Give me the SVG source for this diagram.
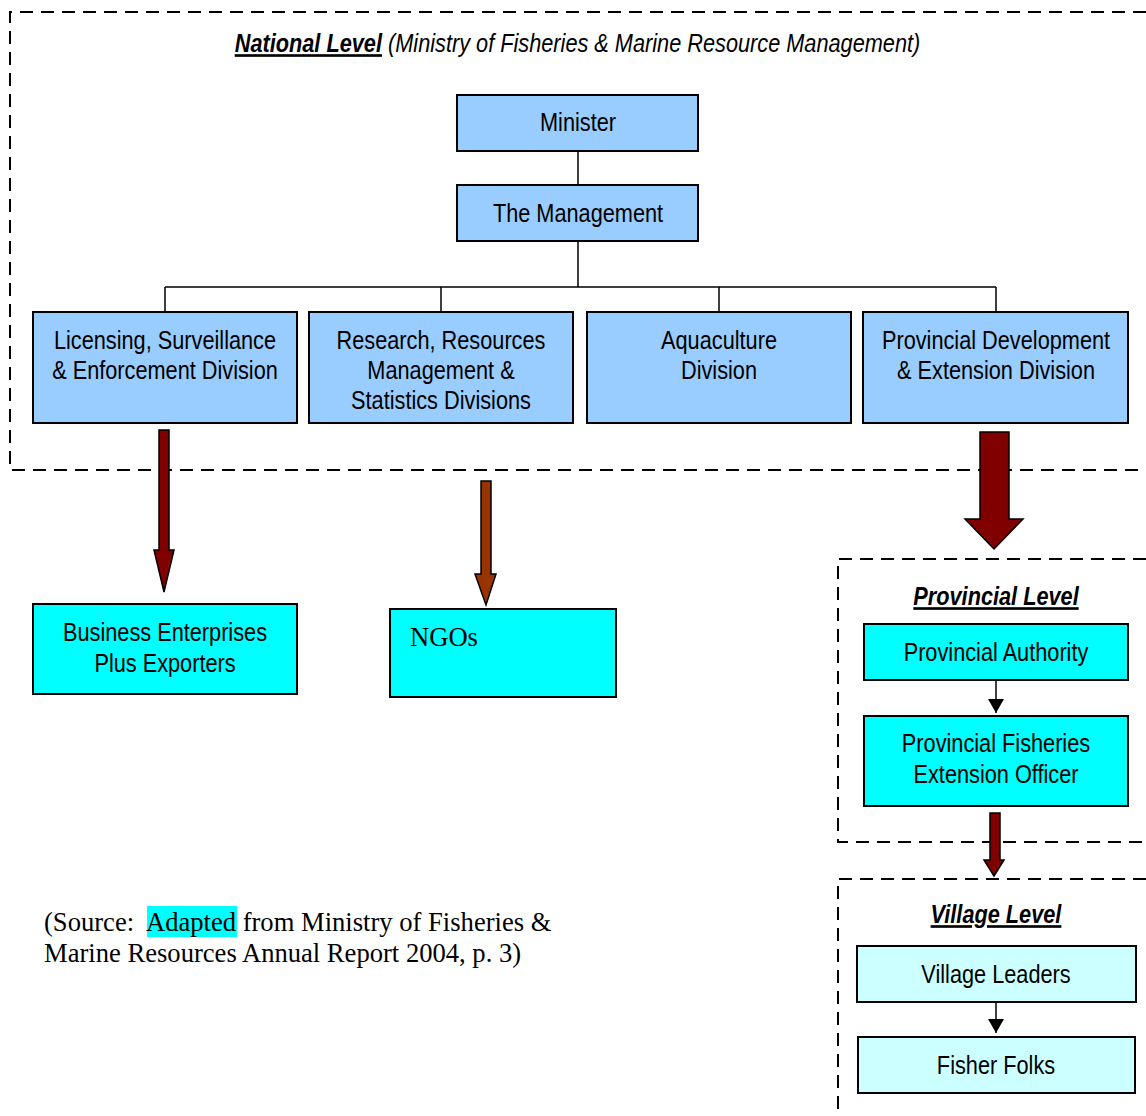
<svg xmlns="http://www.w3.org/2000/svg" width="1146" height="1116" viewBox="0 0 1146 1116">
<style>
.dash{fill:none;stroke:#000;stroke-width:2;stroke-dasharray:13 8}
.blue{fill:#99CCFF;stroke:#000;stroke-width:2}
.cyan{fill:#00FFFF;stroke:#000;stroke-width:2}
.pale{fill:#CCFFFF;stroke:#000;stroke-width:2}
.t{font-family:"Liberation Sans",Arial,sans-serif;font-size:26.5px;fill:#000;text-anchor:middle}
.h{font-family:"Liberation Sans",Arial,sans-serif;font-size:26.5px;font-style:italic;fill:#000;text-anchor:middle}
.s{font-family:"Liberation Serif","Times New Roman",serif;font-size:26.6px;fill:#000}
.ln{fill:none;stroke:#000;stroke-width:1.5}
.fat{stroke:#000;stroke-width:1.5}
</style>
<defs>
<marker id="ah" markerWidth="14" markerHeight="16" refX="14" refY="8" orient="auto" markerUnits="userSpaceOnUse"><path d="M0,0 L14,8 L0,16 z" fill="#000"/></marker>
</defs>
<g id="frames">
<path class="dash" d="M1146,12 H10 V470 H1146"/>
<path class="dash" d="M1146,559 H838 V842 H1146"/>
<path class="dash" d="M1146,879 H838 V1116"/>
</g>
<g id="titles">
<text class="h" transform="translate(577.5 0) scale(0.82 1)" x="0" y="52"><tspan font-weight="bold" text-decoration="underline">National Level</tspan> (Ministry of Fisheries &amp; Marine Resource Management)</text>
<text class="h" transform="translate(996 0) scale(0.82 1)" x="0" y="605" font-weight="bold" text-decoration="underline">Provincial Level</text>
<text class="h" transform="translate(996 0) scale(0.82 1)" x="0" y="923" font-weight="bold" text-decoration="underline">Village Level</text>
</g>
<g id="connectors">
<path class="ln" d="M578,151 V185 M578,241 V287 M165,287 H996 M165,287 V312 M441,287 V312 M719,287 V312 M996,287 V312"/>
<path class="ln" d="M996,680 V713" marker-end="url(#ah)"/>
<path class="ln" d="M996,1002 V1033" marker-end="url(#ah)"/>
<path class="fat" fill="#800000" d="M159,430 H169 V550 H174 L164,592 L154,550 H159 Z"/>
<path class="fat" fill="#993300" d="M481,481 H491 V574 H496 L486,605 L475,574 H481 Z"/>
<path class="fat" fill="#800000" d="M980,432 H1009 V519 H1023 L994,549 L965,519 H980 Z"/>
<path class="fat" fill="#800000" d="M990,813 H1000 V860 H1004 L994,876 L984,860 H990 Z"/>
</g>
<g id="minister"><rect class="blue" x="457" y="95" width="241" height="56"/><text class="t" transform="translate(578 0) scale(0.82 1)" x="0" y="131">Minister</text></g>
<g id="management"><rect class="blue" x="457" y="185" width="241" height="56"/><text class="t" transform="translate(578 0) scale(0.82 1)" x="0" y="222">The Management</text></g>
<g id="licensing"><rect class="blue" x="33" y="312" width="264" height="111"/><text class="t" transform="translate(165 0) scale(0.82 1)" x="0" y="349">Licensing, Surveillance</text><text class="t" transform="translate(165 0) scale(0.82 1)" x="0" y="379">&amp; Enforcement Division</text></g>
<g id="research"><rect class="blue" x="309" y="312" width="264" height="111"/><text class="t" transform="translate(441 0) scale(0.82 1)" x="0" y="349">Research, Resources</text><text class="t" transform="translate(441 0) scale(0.82 1)" x="0" y="379">Management &amp;</text><text class="t" transform="translate(441 0) scale(0.82 1)" x="0" y="409">Statistics Divisions</text></g>
<g id="aquaculture"><rect class="blue" x="587" y="312" width="264" height="111"/><text class="t" transform="translate(719 0) scale(0.82 1)" x="0" y="349">Aquaculture</text><text class="t" transform="translate(719 0) scale(0.82 1)" x="0" y="379">Division</text></g>
<g id="provdev"><rect class="blue" x="863" y="312" width="265" height="111"/><text class="t" transform="translate(996 0) scale(0.82 1)" x="0" y="349">Provincial Development</text><text class="t" transform="translate(996 0) scale(0.82 1)" x="0" y="379">&amp; Extension Division</text></g>
<g id="business"><rect class="cyan" x="33" y="604" width="264" height="90"/><text class="t" transform="translate(165 0) scale(0.82 1)" x="0" y="641">Business Enterprises</text><text class="t" transform="translate(165 0) scale(0.82 1)" x="0" y="672">Plus Exporters</text></g>
<g id="ngos"><rect class="cyan" x="390" y="609" width="226" height="88"/><text class="s" x="410" y="646">NGOs</text></g>
<g id="provauth"><rect class="cyan" x="864" y="624" width="264" height="56"/><text class="t" transform="translate(996 0) scale(0.82 1)" x="0" y="661">Provincial Authority</text></g>
<g id="pfeo"><rect class="cyan" x="864" y="716" width="264" height="90"/><text class="t" transform="translate(996 0) scale(0.82 1)" x="0" y="752">Provincial Fisheries</text><text class="t" transform="translate(996 0) scale(0.82 1)" x="0" y="783">Extension Officer</text></g>
<g id="leaders"><rect class="pale" x="857" y="946" width="279" height="56"/><text class="t" transform="translate(996 0) scale(0.82 1)" x="0" y="983">Village Leaders</text></g>
<g id="folks"><rect class="pale" x="858" y="1037" width="277" height="56"/><text class="t" transform="translate(996 0) scale(0.82 1)" x="0" y="1074">Fisher Folks</text></g>
<g id="source">
<rect x="147" y="906" width="90" height="31" fill="#00FFFF"/>
<text class="s" x="44" y="931" xml:space="preserve">(Source:  Adapted from Ministry of Fisheries &amp;</text>
<text class="s" x="44" y="962">Marine Resources Annual Report 2004, p. 3)</text>
</g>
</svg>
